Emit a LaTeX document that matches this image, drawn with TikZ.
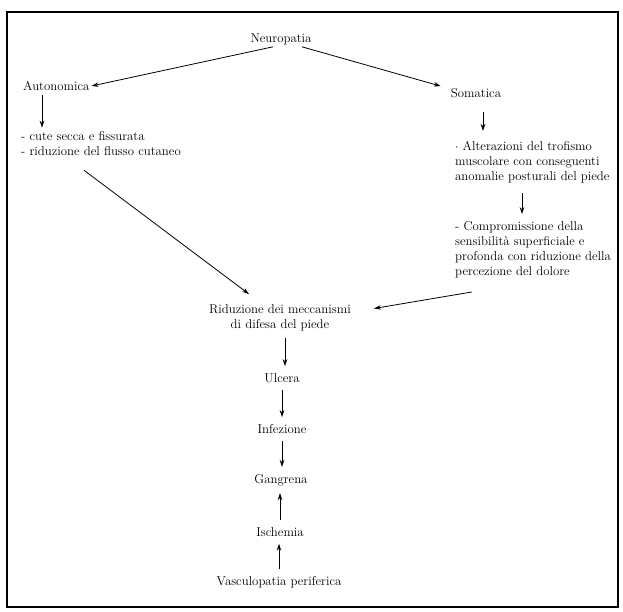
\documentclass[tikz,border=0pt]{standalone}
\usetikzlibrary{arrows.meta}
\begin{document}
\begin{tikzpicture}[x=1pt,y=-1pt,
  every node/.style={font=\fontsize{12.8}{15}\selectfont, inner sep=2pt},
  arr/.style={-{Stealth[length=7pt,width=4.5pt]}, line width=0.8pt},
  col/.style={arr, shorten <=5pt, shorten >=5pt},
  frame/.style={line width=1.4pt}]
\useasboundingbox (0,0) rectangle (623,612);
\draw[frame] (7,12) rectangle (618,607);
% nodes
\node (neuro) at (281,39) {Neuropatia};
\node[anchor=west] (auto) at (21,86) {Autonomica};
\node (soma) at (476,93) {Somatica};
\node[anchor=west,align=left] (autotxt) at (19,144) {- cute secca e fissurata\\- riduzione del flusso cutaneo};
\node[anchor=west,align=left] (somatxt1) at (453,162) {$\cdot$ Alterazioni del trofismo\\muscolare con conseguenti\\anomalie posturali del piede};
\node[anchor=west,align=left] (somatxt2) at (453,249.5) {- Compromissione della\\sensibilità superficiale e\\profonda con riduzione della\\percezione del dolore};
\node[align=center] (ridu) at (280,317.5) {Riduzione dei meccanismi\\di difesa del piede};
\node (ulcera) at (282,378) {Ulcera};
\node (infez) at (282,429) {Infezione};
\node (gangr) at (281,480) {Gangrena};
\node (ische) at (280,532) {Ischemia};
\node (vasc) at (279,582) {Vasculopatia periferica};
% connectors
\draw[arr] ([xshift=-8pt]neuro.south) -- (auto.east);
\draw[arr] ([xshift=21pt]neuro.south) -- ([xshift=-8pt]soma.north west);
\draw[arr] ([xshift=21pt,yshift=-2pt]auto.south west) -- ([xshift=21pt,yshift=2pt]auto.south west |- autotxt.north);
\draw[arr] ([xshift=65pt,yshift=-12pt]autotxt.south west) -- ([xshift=42pt,yshift=8pt]ridu.north west);
\draw[arr] ([xshift=7pt,yshift=-12pt]soma.south) -- ([xshift=7pt,yshift=8pt]soma.south |- somatxt1.north);
\draw[arr] ([xshift=69pt,yshift=-8pt]somatxt1.south west) -- ([xshift=69pt,yshift=5pt]somatxt2.north west);
\draw[arr] ([xshift=19pt,yshift=-12pt]somatxt2.south west) -- ([xshift=21pt,yshift=9pt]ridu.east);
\draw[col] ([xshift=5pt]ridu.south) -- ([xshift=5pt]ridu.south |- ulcera.north);
\draw[col] (ulcera.south) -- (infez.north);
\draw[col] (infez.south) -- (infez.south |- gangr.north);
\draw[col] (ische.north) -- (ische.north |- gangr.south);
\draw[col] (vasc.north) -- (vasc.north |- ische.south);
\end{tikzpicture}
\end{document}
